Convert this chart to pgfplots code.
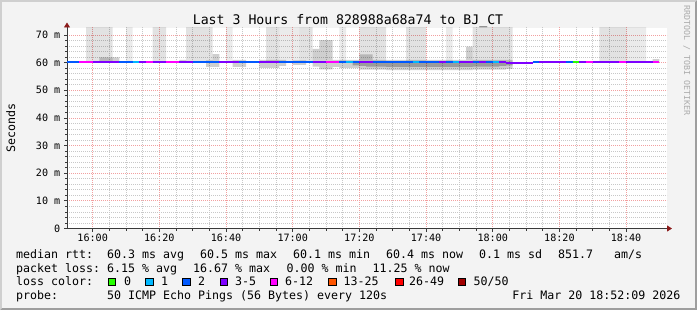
\documentclass[border=0pt]{standalone}
\usepackage{pgfplots}
\pgfplotsset{compat=1.18}
\usetikzlibrary{arrows.meta}
\usepackage{fontspec}
\setmainfont{DejaVu Sans Mono}
\setmonofont{DejaVu Sans Mono}
\newcommand\lgfont{\fontsize{11.67pt}{14pt}\selectfont}
\newcommand\ttlfont{\fontsize{13.27pt}{15pt}\selectfont}
\newcommand\tickfont{\fontsize{10.14pt}{12pt}\selectfont}
\newcommand\wmfont{\fontsize{8.33pt}{10pt}\selectfont}
\definecolor{bg}{HTML}{F3F3F3}
\definecolor{shadeA}{HTML}{CFCFCF}
\definecolor{shadeB}{HTML}{9E9E9E}
\definecolor{gridcol}{HTML}{C8C8C8}
\definecolor{mgridcol}{HTML}{F2A0A0}
\definecolor{axiscol}{HTML}{3A3A3A}
\definecolor{arrowcol}{HTML}{8B1A1A}
\definecolor{mgreen}{HTML}{26FF00}
\definecolor{mcyan}{HTML}{00B8FF}
\definecolor{mblue}{HTML}{0059FF}
\definecolor{mpurple}{HTML}{7E00FF}
\definecolor{mmag}{HTML}{FF00FF}
\definecolor{morange}{HTML}{FF5500}
\definecolor{mred}{HTML}{FF0000}
\definecolor{mdred}{HTML}{A10000}

\begin{document}
\begin{tikzpicture}[x=1bp,y=1bp]
\useasboundingbox (0,0) rectangle (697,310);
\fill[shadeB] (0,0) rectangle (697,310);
\fill[shadeA] (0,0) -- (0,310) -- (697,310) -- (695,308) -- (2,308) -- (2,2) -- cycle;
\fill[bg] (2,2) rectangle (695,308);
\fill[white] (67,81.5) rectangle (667,282.5);

\begin{axis}[
  at={(67bp,81.5bp)}, anchor=south west,
  scale only axis, width=600bp, height=201bp,
  xmin=-7.71, xmax=172.29, ymin=0, ymax=72.73,
  axis x line=bottom, axis y line=left,
  axis line style={draw=axiscol, line width=0.9bp},
  x axis line style={-{Triangle[length=5bp,width=6bp,color=arrowcol]}, shorten >=-5bp},
  y axis line style={-{Triangle[length=5bp,width=6bp,color=arrowcol]}, shorten >=-5bp},
  grid=both,
  major grid style={draw=mgridcol, line width=0.8bp, dash pattern=on 1bp off 1bp},
  minor grid style={draw=gridcol, line width=0.8bp, dash pattern=on 1bp off 1bp},
  xtick={0,20,...,160},
  xticklabels={16:00,16:20,16:40,17:00,17:20,17:40,18:00,18:20,18:40},
  minor x tick num=3,
  ytick={0,10,...,70},
  yticklabels={0,10 m,20 m,30 m,40 m,50 m,60 m,70 m},
  minor y tick num=4,
  tick align=outside,
  major tick length=3bp, minor tick length=2bp,
  tick style={draw=axiscol, line width=0.8bp},
  xticklabel style={font=\tickfont, inner sep=0pt, anchor=north},
  yticklabel style={font=\tickfont, inner sep=0pt, anchor=east},
  xticklabel shift=2bp,
  yticklabel shift=3.5bp,
  unbounded coords=jump,
  every axis plot/.append style={line join=miter},
]
% light smoke: outliers above 72 ms
\addplot[draw=none, fill=black, fill opacity=0.115] coordinates {
(-2,60.3) (-2,80) (6,80) (6,60.3) (6,nan)
(28,60.3) (28,80) (36,80) (36,60.3) (36,nan)
(18,60.3) (18,80) (22,80) (22,60.3) (22,nan)
(52,60.3) (52,80) (56,80) (56,60.3) (56,nan)
(62,60.3) (62,80) (66,80) (66,60.3) (66,nan)
(80,60.3) (80,80) (88,80) (88,60.3) (88,nan)
(94,60.3) (94,80) (100,80) (100,60.3) (100,nan)
(114,60.3) (114,80) (126,80) (126,60.3) (126,nan)
(152,60.3) (152,80) (160,80) (160,60.3)
};
% lighter outlier columns
\addplot[draw=none, fill=black, fill opacity=0.08] coordinates {
(10,60.3) (10,80) (12,80) (12,60.3) (12,nan)
(40,60.3) (40,80) (42,80) (42,60.3) (42,nan)
(56,60.3) (56,80) (62,80) (62,60.3) (62,nan)
(74,60.3) (74,80) (76,80) (76,60.3) (76,nan)
(106,60.3) (106,80) (108,80) (108,60.3) (108,nan)
(160,60.3) (160,80) (166,80) (166,60.3)
};
% medium smoke: spread around the median
\addplot[draw=none, fill=black, fill opacity=0.19] coordinates {
(2,60.0) (2,61.9) (8,61.9) (8,60.0) (8,nan)
(26,60.0) (26,61.0) (28,61.0) (28,60.0) (28,nan)
(34,58.5) (34,60.8) (36,60.8) (36,63.1) (38,63.1) (38,58.5) (38,nan)
(42,58.5) (42,61.0) (46,61.0) (46,58.5) (46,nan)
(50,58.1) (50,61.0) (58,61.0) (58,58.8) (56,58.8) (56,58.1) (56,nan)
(60,59.2) (60,60.8) (64,60.8) (64,59.2) (64,nan)
(66,58.6) (66,65.0) (68,65.0) (68,68.2) (72,68.2) (72,61.0) (80,61.0) (80,63.0) (84,63.0) (84,61.0) (112,61.0) (112,65.8) (114,65.8) (114,61.0) (126,61.0)
(126,57.8) (124,57.8) (124,57.5) (114,57.5) (114,57.3) (88,57.3) (88,57.5) (80,57.5) (80,58.0) (74,58.0) (74,58.5) (72,58.5) (72,57.6) (68,57.6) (68,58.6) (66,58.6) (66,nan)
(168,60.0) (168,61.3) (170,61.3) (170,60.0)
};
% dense smoke just below the median
\addplot[draw=none, fill=black, fill opacity=0.25] coordinates {
(78,60.3) (126,60.3) (126,59.0) (124,59.0) (124,58.8) (122,58.8) (122,58.6) (114,58.6) (114,58.5) (88,58.5) (88,58.6) (82,58.6) (82,58.8) (80,58.8) (80,59.0) (78,59.0)
};

\pgfplotsset{every axis plot/.append style={line width=2bp}}
\addplot[mblue] coordinates {(-8,60.3) (-4,60.3)};
\addplot[mmag] coordinates {(-4,60.3) (0,60.3)};
\addplot[mpurple] coordinates {(0,60.3) (8,60.3)};
\addplot[mblue] coordinates {(8,60.3) (12,60.3)};
\addplot[mcyan] coordinates {(12,60.3) (14,60.3)};
\addplot[mpurple] coordinates {(14,60.3) (16,60.3)};
\addplot[mmag] coordinates {(16,60.3) (18,60.3)};
\addplot[mpurple] coordinates {(18,60.3) (22,60.3)};
\addplot[mmag] coordinates {(22,60.3) (26,60.3)};
\addplot[mpurple] coordinates {(26,60.3) (30,60.3)};
\addplot[mblue] coordinates {(30,60.3) (38,60.3)};
\addplot[mpurple] coordinates {(38,60.3) (44,60.3)};
\addplot[mblue] coordinates {(44,60.3) (50,60.3)};
\addplot[mpurple] coordinates {(50,60.3) (56,60.3)};
\addplot[mblue] coordinates {(56,60.3) (66,60.3)};
\addplot[mpurple] coordinates {(66,60.3) (70,60.3)};
\addplot[mmag] coordinates {(70,60.3) (74,60.3)};
\addplot[mblue] coordinates {(74,60.3) (76,60.3)};
\addplot[mcyan] coordinates {(76,60.3) (78,60.3)};
\addplot[mblue] coordinates {(78,60.3) (80,60.3)};
\addplot[mpurple] coordinates {(80,60.3) (84,60.3)};
\addplot[mblue] coordinates {(84,60.3) (96,60.3)};
\addplot[mcyan] coordinates {(96,60.3) (98,60.3)};
\addplot[mblue] coordinates {(98,60.4) (104,60.4)};
\addplot[mpurple] coordinates {(104,60.3) (106,60.3)};
\addplot[mblue] coordinates {(106,60.3) (108,60.3)};
\addplot[mcyan] coordinates {(108,60.3) (110,60.3)};
\addplot[mpurple] coordinates {(110,60.3) (114,60.3)};
\addplot[mblue] coordinates {(114,60.3) (116,60.3)};
\addplot[mpurple] coordinates {(116,60.3) (118,60.3)};
\addplot[mblue] coordinates {(118,60.3) (120,60.3)};
\addplot[mcyan] coordinates {(120,60.3) (122,60.3)};
\addplot[mpurple] coordinates {(122,60.3) (124,60.3)};
\addplot[mpurple] coordinates {(124,60.0) (132,60.0)};
\addplot[mblue] coordinates {(132,60.3) (134,60.3)};
\addplot[mpurple] coordinates {(134,60.3) (142,60.3)};
\addplot[mblue] coordinates {(142,60.3) (144,60.3)};
\addplot[mgreen] coordinates {(144,60.3) (146,60.3)};
\addplot[mpurple] coordinates {(146,60.3) (148,60.3)};
\addplot[mmag] coordinates {(148,60.3) (150,60.3)};
\addplot[mpurple] coordinates {(150,60.3) (158,60.3)};
\addplot[mmag] coordinates {(158,60.3) (160,60.3)};
\addplot[mpurple] coordinates {(160,60.3) (168,60.3)};
\addplot[mmag] coordinates {(168,60.3) (170,60.3)};
\end{axis}

% title and labels
\node[font=\ttlfont, anchor=base, inner sep=0] at (348,286) {Last 3 Hours from 828988a68a74 to BJ\_CT};
\node[font=\lgfont, anchor=base, inner sep=0, rotate=90] at (15,182.5) {Seconds};
\node[font=\wmfont, text=black!33, anchor=base west, inner sep=0, rotate=-90] at (684,305) {RRDTOOL / TOBI OETIKER};

\begin{scope}[every node/.style={font=\lgfont, anchor=base west, inner sep=0}]
% row 1
\node at (16,52) {median rtt:};
\node at (107,52) {60.3 ms avg};
\node at (200,52) {60.5 ms max};
\node at (293,52) {60.1 ms min};
\node at (386,52) {60.4 ms now};
\node at (479,52) {0.1 ms sd};
\node at (558,52) {851.7};
\node at (614,52) {am/s};
% row 2
\node at (16,38) {packet loss:};
\node at (107,38) {6.15 \% avg};
\node at (193,38) {16.67 \% max};
\node at (286.5,38) {0.00 \% min};
\node at (372.5,38) {11.25 \% now};
% row 3
\node at (16,24.5) {loss color:};
\node at (124,24.5) {0};
\node at (161,24.5) {1};
\node at (198,24.5) {2};
\node at (235,24.5) {3-5};
\node at (285,24.5) {6-12};
\node at (343.3,24.5) {13-25};
\node at (409,24.5) {26-49};
\node at (473.3,24.5) {50/50};
% row 4
\node at (16,10.5) {probe:};
\node at (107,10.5) {50 ICMP Echo Pings (56 Bytes) every 120s};
\node[anchor=base east] at (680.5,10.5) {Fri Mar 20 18:52:09 2026};
\end{scope}
\foreach \xx/\cc in {108.3/mgreen,145.7/mcyan,182.7/mblue,220/mpurple,270/mmag,328.7/morange,395.7/mred,458.3/mdred}{
  \filldraw[fill=\cc, draw=black, line width=0.8bp] (\xx,24.4) rectangle ++(7.4,7.4);
}
\end{tikzpicture}
\end{document}
